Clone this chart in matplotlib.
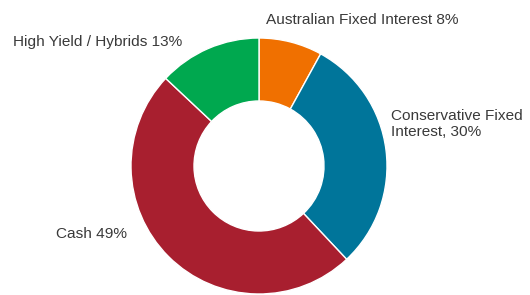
import matplotlib
matplotlib.use('Agg')
from matplotlib import pyplot as plt

labels = ['Australian Fixed Interest 8%', 'Conservative Fixed\nInterest, 30%',
          'Cash 49%', 'High Yield / Hybrids 13%']
values = [8, 30, 49, 13]
colors = ['#F07000', '#00759A', '#A81F2F', '#00A84F']

plt.rcParams['font.family'] = ['Liberation Sans', 'DejaVu Sans']

fig = plt.figure(figsize=(5.30, 2.95), dpi=100)
ax = fig.add_axes([0, 0, 1, 1])

# pixel-ish coordinates, y up
cx, cy, r = 259, 295 - 166, 128
ax.pie(values, colors=colors, startangle=90, counterclock=False,
       center=(cx, cy), radius=r,
       wedgeprops=dict(width=r - 65, edgecolor='white', linewidth=1))
ax.set_xlim(0, 530)
ax.set_ylim(0, 295)
ax.set_aspect('equal')
ax.axis('off')

# label anchors (left x, center y) in pixel coords from top
pos = [(266, 20), (391, 124), (56, 234), (13, 42)]
for lab, (x, y) in zip(labels, pos):
    ax.text(x, 295 - y, lab, fontsize=11.1, color='#3a3a3a',
            ha='left', va='center', linespacing=1.15)

fig.savefig('out.png', dpi=100)
